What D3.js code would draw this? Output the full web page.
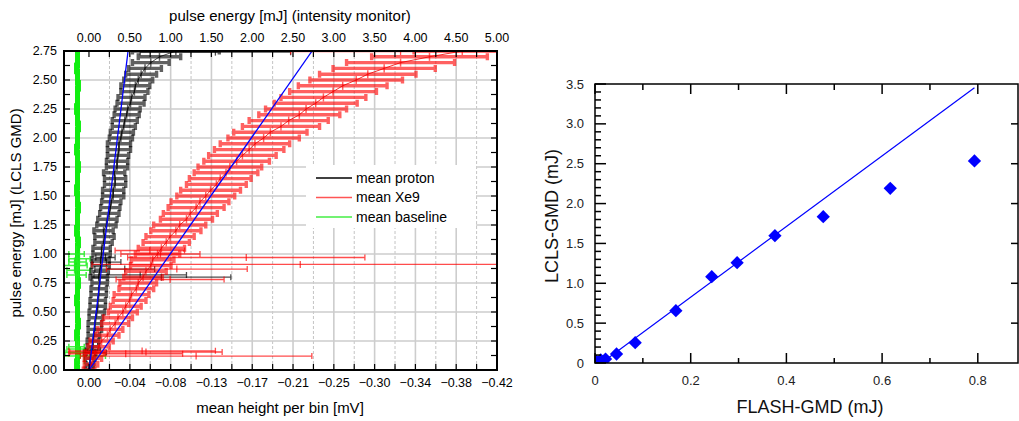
<!DOCTYPE html>
<html>
<head>
<meta charset="utf-8">
<script src="https://cdn.jsdelivr.net/npm/d3@7"></script>
<style>
body { margin: 0; background: #fff; }
svg { font-family: "Liberation Sans", Arial, sans-serif; }
</style>
</head>
<body>
<svg width="1019" height="421"></svg>
<script>
// ---- left panel data: pulse energy bins (LCLS GMD, mJ) ----
var energy = [0.00,0.05,0.10,0.15,0.20,0.25,0.30,0.35,0.40,0.45,
              0.50,0.55,0.60,0.65,0.70,0.75,0.80,0.85,0.90,0.95,
              1.00,1.05,1.10,1.15,1.20,1.25,1.30,1.35,1.40,1.45,
              1.50,1.55,1.60,1.65,1.70,1.75,1.80,1.85,1.90,1.95,
              2.00,2.05,2.10,2.15,2.20,2.25,2.30,2.35,2.40,2.45,
              2.50,2.55,2.60,2.65,2.70,2.75];

var protonMean = [0.000,-0.001,-0.001,-0.002,-0.004,-0.004,-0.005,-0.006,-0.006,-0.007,
                  -0.008,-0.009,-0.009,-0.010,-0.010,-0.011,-0.010,-0.011,-0.012,-0.012,
                  -0.013,-0.013,-0.015,-0.016,-0.015,-0.018,-0.019,-0.021,-0.022,-0.023,
                  -0.025,-0.025,-0.027,-0.027,-0.026,-0.029,-0.029,-0.030,-0.031,-0.031,
                  -0.033,-0.034,-0.036,-0.037,-0.039,-0.040,-0.043,-0.044,-0.047,-0.048,
                  -0.051,-0.054,-0.058,-0.064,-0.073,-0.090];
var protonErr = [0.004,0.004,0.005,0.005,0.006,0.006,0.006,0.007,0.007,0.007,
                 0.008,0.008,0.008,0.008,0.008,0.008,0.009,0.009,0.009,0.009,
                 0.009,0.009,0.009,0.010,0.010,0.010,0.010,0.010,0.010,0.010,
                 0.011,0.011,0.011,0.011,0.011,0.011,0.011,0.011,0.012,0.012,
                 0.012,0.012,0.012,0.013,0.013,0.013,0.014,0.014,0.014,0.015,
                 0.015,0.016,0.017,0.019,0.022,0.045];

var xeMean = [0.000,-0.002,-0.004,-0.006,-0.010,-0.013,-0.019,-0.022,-0.027,-0.030,
              -0.035,-0.038,-0.042,-0.044,-0.049,-0.051,-0.056,-0.059,-0.064,-0.066,
              -0.071,-0.075,-0.080,-0.084,-0.090,-0.094,-0.101,-0.105,-0.111,-0.115,
              -0.121,-0.126,-0.132,-0.136,-0.142,-0.146,-0.153,-0.159,-0.166,-0.172,
              -0.181,-0.188,-0.199,-0.207,-0.218,-0.225,-0.235,-0.243,-0.253,-0.263,
              -0.277,-0.289,-0.306,-0.323,-0.353,-0.387];
var xeErr = [0.006,0.007,0.009,0.010,0.011,0.012,0.012,0.013,0.014,0.015,
             0.015,0.016,0.017,0.018,0.018,0.019,0.020,0.021,0.021,0.022,
             0.023,0.024,0.024,0.025,0.026,0.027,0.027,0.028,0.029,0.030,
             0.030,0.031,0.031,0.032,0.033,0.033,0.034,0.035,0.036,0.036,
             0.037,0.038,0.040,0.041,0.042,0.042,0.043,0.044,0.045,0.046,
             0.048,0.050,0.053,0.056,0.060,0.050];

var baselineMean = [0.012,0.013,0.012,0.011,0.012,0.012,0.013,0.012,0.011,0.012,
                    0.012,0.012,0.013,0.012,0.012,0.011,0.012,0.012,0.013,0.012,
                    0.012,0.012,0.011,0.012,0.013,0.012,0.012,0.012,0.011,0.012,
                    0.012,0.013,0.012,0.012,0.012,0.011,0.012,0.012,0.013,0.012,
                    0.012,0.012,0.011,0.012,0.012,0.013,0.012,0.012,0.012,0.011,
                    0.012,0.012,0.013,0.012,0.012,0.012];
var baselineErr = 0.001;

// sparse bins with few shots (big error bars)
var protonExtraE    = [0.15, 0.17, 0.80, 0.82, 0.87, 0.93, 0.97, 2.74];
var protonExtraMean = [-0.006,-0.004,-0.075,-0.053,-0.037,-0.018,-0.017,-0.131];
var protonExtraErr  = [0.012, 0.008, 0.072, 0.048, 0.031, 0.015, 0.010, 0.078];

var xeExtraE    = [0.12, 0.14, 0.155, 0.165, 0.78, 0.87, 0.91, 0.97, 1.00, 1.03, 2.745];
var xeExtraMean = [-0.111,-0.038,-0.059,-0.055,-0.084,-0.091,-0.219,-0.163,-0.074,-0.063,-0.323];
var xeExtraErr  = [0.120, 0.059, 0.079, 0.076, 0.056, 0.073, 0.216, 0.123, 0.041, 0.036, 0.114];

var baseExtraE    = [0.12, 0.15, 0.18, 0.20, 0.82, 0.86, 0.90, 0.93, 0.96, 1.00];
var baseExtraMean = [0.005, 0.012, 0.011, 0.013, 0.013, 0.011, 0.015, 0.012, 0.010, 0.013];
var baseExtraErr  = [0.022, 0.013, 0.012, 0.008, 0.010, 0.012, 0.013, 0.009, 0.011, 0.008];

// linear fits (mV per mJ)
var protonFitSlope = -0.0147;
var xeFitSlope = -0.0841;

var bottomTicks = [0, -0.0423, -0.0846, -0.1269, -0.1692, -0.2115, -0.2538, -0.2961, -0.3384, -0.3807, -0.423];
var topTicks = [0, 0.5, 1.0, 1.5, 2.0, 2.5, 3.0, 3.5, 4.0, 4.5, 5.0];
var leftTicks = [0, 0.25, 0.5, 0.75, 1.0, 1.25, 1.5, 1.75, 2.0, 2.25, 2.5, 2.75];

// ---- right panel data ----
var flashGmd = [0.003, 0.012, 0.022, 0.045, 0.084, 0.169, 0.244, 0.297, 0.376, 0.477, 0.617, 0.793];
var lclsGmd  = [0.020, 0.040, 0.050, 0.113, 0.255, 0.656, 1.083, 1.258, 1.597, 1.836, 2.192, 2.535];
var fitSlope = 4.43, fitIntercept = -0.06;

var svg = d3.select("svg");
var fmt2 = d3.format(".2f");

// ================= left panel =================
var L = {left: 64, right: 497, top: 51, bottom: 370};
var x = d3.scaleLinear().domain([0.026, -0.423]).range([L.left, L.right]);
var xTop = d3.scaleLinear().domain([-0.306, 5.0]).range([L.left, L.right]);
var y = d3.scaleLinear().domain([0, 2.75]).range([L.bottom, L.top]);

svg.append("clipPath").attr("id", "clipL").append("rect")
  .attr("x", L.left).attr("y", L.top).attr("width", L.right - L.left).attr("height", L.bottom - L.top);

var grid = svg.append("g");
var minorX = [];
for (var i = 0; i < bottomTicks.length - 1; i++) minorX.push((bottomTicks[i] + bottomTicks[i + 1]) / 2);
grid.selectAll(".vminor").data(minorX).enter().append("line")
  .attr("x1", d => x(d)).attr("x2", d => x(d)).attr("y1", L.top).attr("y2", L.bottom)
  .attr("stroke", "#c4c4c4").attr("stroke-width", 1).attr("stroke-dasharray", "3,2");
grid.selectAll(".vmajor").data(bottomTicks.slice(1, -1)).enter().append("line")
  .attr("x1", d => x(d)).attr("x2", d => x(d)).attr("y1", L.top).attr("y2", L.bottom)
  .attr("stroke", "#cdcdcd").attr("stroke-width", 1.6);
grid.selectAll(".hmajor").data(leftTicks.slice(1, -1)).enter().append("line")
  .attr("y1", d => y(d)).attr("y2", d => y(d)).attr("x1", L.left).attr("x2", L.right)
  .attr("stroke", "#cdcdcd").attr("stroke-width", 1.6);

var plot = svg.append("g").attr("clip-path", "url(#clipL)");

// horizontal error bar with end caps plus a short vertical bin bar at the mean
function errorBars(E, M, Err, color, opacity, yHalf, cap, width, vWidth) {
  var g = plot.append("g").attr("stroke", color).attr("stroke-opacity", opacity).attr("fill", "none");
  var pts = E.map(function(e, i) {
    return {e: e, m: M[i], err: Array.isArray(Err) ? Err[i] : Err};
  });
  g.selectAll(".h").data(pts).enter().append("path")
    .attr("stroke-width", width)
    .attr("d", function(d) {
      var xa = x(d.m + d.err), xb = x(d.m - d.err), yy = y(d.e);
      var p = "M" + xa + "," + yy + "H" + xb;
      if (cap > 0) {
        p += "M" + xa + "," + (yy - cap) + "V" + (yy + cap) +
             "M" + xb + "," + (yy - cap) + "V" + (yy + cap);
      }
      return p;
    });
  g.selectAll(".v").data(pts).enter().append("line")
    .attr("stroke-width", vWidth)
    .attr("x1", d => x(d.m)).attr("x2", d => x(d.m))
    .attr("y1", d => y(d.e + yHalf)).attr("y2", d => y(d.e - yHalf));
  return pts;
}

function meanLine(pts, color, opacity) {
  plot.append("path").datum(pts)
    .attr("d", d3.line().x(d => x(d.m)).y(d => y(d.e)))
    .attr("fill", "none").attr("stroke", color).attr("stroke-opacity", opacity).attr("stroke-width", 1);
}

// baseline (green)
var bp = errorBars(energy, baselineMean, baselineErr, "#11ee11", 1, 0.05, 0, 1.5, 5);
errorBars(baseExtraE, baseExtraMean, baseExtraErr, "#22ee22", 0.85, 0.07, 3, 1.5, 1.5);

// proton (black)
var pp = errorBars(energy, protonMean, protonErr, "#000", 0.62, 0.035, 3.5, 3.4, 1.5);
errorBars(protonExtraE, protonExtraMean, protonExtraErr, "#000", 0.7, 0.03, 3, 1.3, 1.3);
meanLine(pp, "#000", 0.7);

// Xe9 (red)
var xp = errorBars(energy, xeMean, xeErr, "#ff0000", 0.62, 0.035, 3.5, 3.4, 1.5);
errorBars(xeExtraE, xeExtraMean, xeExtraErr, "#ff0000", 0.7, 0.03, 3, 1.3, 1.3);
meanLine(xp, "#ee0000", 0.8);

// fits
[protonFitSlope, xeFitSlope].forEach(function(s) {
  plot.append("line")
    .attr("x1", x(0)).attr("y1", y(0))
    .attr("x2", x(s * 2.75)).attr("y2", y(2.75))
    .attr("stroke", "#0000ff").attr("stroke-width", 1.3);
});

// legend
var legendItems = ["mean proton", "mean Xe9", "mean baseline"];
var legendColors = ["#000", "#ff5555", "#44ee44"];
svg.append("rect").attr("x", 306).attr("y", 165).attr("width", 170).attr("height", 63).attr("fill", "#fff");
var lg = svg.append("g").selectAll("g").data(legendItems).enter().append("g")
  .attr("transform", (d, i) => "translate(316," + (178 + i * 19.5) + ")");
lg.append("line").attr("x1", 0).attr("x2", 36).attr("stroke", (d, i) => legendColors[i]).attr("stroke-width", 1.3);
lg.append("text").attr("x", 40).attr("dy", "0.35em").attr("font-size", 14).text(d => d);

// frame and ticks
svg.append("rect").attr("x", L.left).attr("y", L.top).attr("width", L.right - L.left).attr("height", L.bottom - L.top)
  .attr("fill", "none").attr("stroke", "#000").attr("stroke-width", 2);

var tk = svg.append("g").attr("stroke", "#000").attr("stroke-width", 1.2);
var allX = bottomTicks.concat(minorX);
tk.selectAll(".bt").data(allX).enter().append("line")
  .attr("x1", d => x(d)).attr("x2", d => x(d)).attr("y1", L.bottom).attr("y2", L.bottom - 6);
var topMinor = topTicks.slice(0, -1).map(d => d + 0.25);
tk.selectAll(".tt").data(topTicks.concat(topMinor)).enter().append("line")
  .attr("x1", d => xTop(d)).attr("x2", d => xTop(d)).attr("y1", L.top).attr("y2", L.top + 6);
var leftMinor = leftTicks.slice(0, -1).map(d => d + 0.125);
var allY = leftTicks.concat(leftMinor);
tk.selectAll(".lt").data(allY).enter().append("line")
  .attr("y1", d => y(d)).attr("y2", d => y(d)).attr("x1", L.left).attr("x2", L.left + 6);
tk.selectAll(".rt").data(allY).enter().append("line")
  .attr("y1", d => y(d)).attr("y2", d => y(d)).attr("x1", L.right).attr("x2", L.right - 6);

var lab = svg.append("g").attr("font-size", 12.5).attr("fill", "#000");
lab.selectAll(".bl").data(bottomTicks).enter().append("text")
  .attr("x", d => x(d)).attr("y", 387).attr("text-anchor", "middle").text(d => fmt2(d));
lab.selectAll(".tl").data(topTicks).enter().append("text")
  .attr("x", d => xTop(d)).attr("y", 42).attr("text-anchor", "middle").text(d => fmt2(d));
lab.selectAll(".ll").data(leftTicks).enter().append("text")
  .attr("x", 57).attr("y", d => y(d)).attr("dy", "0.35em").attr("text-anchor", "end").text(d => fmt2(d));

svg.append("text").attr("x", 290).attr("y", 21).attr("text-anchor", "middle").attr("font-size", 15)
  .text("pulse energy [mJ] (intensity monitor)");
svg.append("text").attr("x", 280).attr("y", 413).attr("text-anchor", "middle").attr("font-size", 15)
  .text("mean height per bin [mV]");
svg.append("text").attr("transform", "translate(21,213) rotate(-90)").attr("text-anchor", "middle").attr("font-size", 15)
  .text("pulse energy [mJ] (LCLS GMD)");

// ================= right panel =================
var R = {left: 595, right: 1018, top: 84, bottom: 363};
var x2 = d3.scaleLinear().domain([0, 0.884]).range([R.left, R.right]);
var y2 = d3.scaleLinear().domain([0, 3.5]).range([R.bottom, R.top]);

svg.append("clipPath").attr("id", "clipR").append("rect")
  .attr("x", R.left).attr("y", R.top).attr("width", R.right - R.left).attr("height", R.bottom - R.top);
var plot2 = svg.append("g").attr("clip-path", "url(#clipR)");

var fx = d3.extent(flashGmd);
plot2.append("line")
  .attr("x1", x2(fx[0])).attr("y1", y2(fitSlope * fx[0] + fitIntercept))
  .attr("x2", x2(fx[1])).attr("y2", y2(fitSlope * fx[1] + fitIntercept))
  .attr("stroke", "#0000ff").attr("stroke-width", 1.2);

var diamond = d3.symbol().type(d3.symbolSquare).size(88);
plot2.selectAll(".pt").data(flashGmd).enter().append("path")
  .attr("d", diamond)
  .attr("transform", (d, i) => "translate(" + x2(d) + "," + y2(lclsGmd[i]) + ") rotate(45)")
  .attr("fill", "#0000ff");

var ax = svg.append("g").attr("stroke", "#000").attr("stroke-width", 1.5);
ax.append("rect").attr("x", R.left).attr("y", R.top).attr("width", R.right - R.left).attr("height", R.bottom - R.top)
  .attr("fill", "none");
var xt2 = d3.range(0, 9).map(d => d / 10);
ax.selectAll(".b2").data(xt2).enter().append("line")
  .attr("x1", d => x2(d)).attr("x2", d => x2(d)).attr("y1", R.bottom)
  .attr("y2", (d, i) => R.bottom - (i % 2 === 0 ? 10 : 5));
ax.selectAll(".t2").data(xt2).enter().append("line")
  .attr("x1", d => x2(d)).attr("x2", d => x2(d)).attr("y1", R.top)
  .attr("y2", (d, i) => R.top + (i % 2 === 0 ? 10 : 6));
var yt2 = d3.range(0, 36).map(d => d / 10);
ax.selectAll(".l2").data(yt2).enter().append("line")
  .attr("y1", d => y2(d)).attr("y2", d => y2(d)).attr("x1", R.left)
  .attr("x2", (d, i) => R.left + (i % 5 === 0 ? 11 : 6));
ax.selectAll(".r2").data([0.5, 1.0, 1.5, 2.0, 2.5, 3.0]).enter().append("line")
  .attr("y1", d => y2(d)).attr("y2", d => y2(d)).attr("x1", R.right).attr("x2", R.right - 7);

var lab2 = svg.append("g").attr("font-size", 13).attr("fill", "#222");
var xLabels = [0, 0.2, 0.4, 0.6, 0.8];
lab2.selectAll(".xl").data(xLabels).enter().append("text")
  .attr("x", d => x2(d)).attr("y", 385).attr("text-anchor", "middle").text(d => d === 0 ? "0" : d.toFixed(1));
var yLabels = [0, 0.5, 1.0, 1.5, 2.0, 2.5, 3.0, 3.5];
lab2.selectAll(".yl").data(yLabels).enter().append("text")
  .attr("x", 584).attr("y", d => y2(d)).attr("dy", "0.35em").attr("text-anchor", "end")
  .text(d => d === 0 ? "0" : d.toFixed(1));

svg.append("text").attr("x", 810).attr("y", 413).attr("text-anchor", "middle").attr("font-size", 18).attr("fill", "#111")
  .text("FLASH-GMD (mJ)");
svg.append("text").attr("transform", "translate(558,216) rotate(-90)").attr("text-anchor", "middle").attr("font-size", 18).attr("fill", "#111")
  .text("LCLS-GMD (mJ)");
</script>
</body>
</html>
